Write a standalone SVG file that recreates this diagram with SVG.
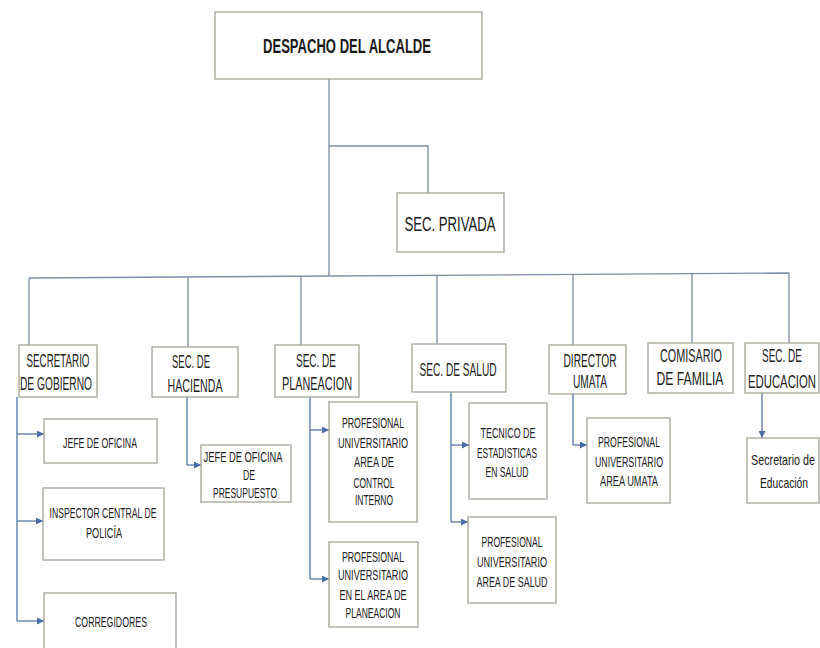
<svg xmlns="http://www.w3.org/2000/svg" width="820" height="648" viewBox="0 0 820 648">
<style>
.box{fill:#ffffff;stroke:#a3a594;stroke-width:1.3}
.t1{font-family:"Liberation Sans Narrow","Liberation Sans",Arial,sans-serif;font-size:21px;font-weight:bold;fill:#1a1a1a;text-anchor:middle}
.t1b{font-family:"Liberation Sans Narrow","Liberation Sans",Arial,sans-serif;font-size:20px;fill:#1a1a1a;text-anchor:middle}
.t2{font-family:"Liberation Sans Narrow","Liberation Sans",Arial,sans-serif;font-size:18.5px;fill:#222;text-anchor:middle}
.t3{font-family:"Liberation Sans Narrow","Liberation Sans",Arial,sans-serif;font-size:14px;fill:#222;text-anchor:middle}
.bus{fill:none;stroke:#7d8ea5;stroke-width:1.3}
.arr{fill:none;stroke:#5576a8;stroke-width:1.3}
</style>
<defs>
<marker id="ah" viewBox="0 0 8 8" refX="8" refY="4" markerWidth="7" markerHeight="7" markerUnits="userSpaceOnUse" orient="auto">
<path d="M0,0 L8,4 L0,8 z" fill="#4a6fa8"/>
</marker>
</defs>
<g id="connectors">
<path class="bus" d="M329,79 V276 M329,146 H428 V193"/>
<path class="bus" d="M29,278 L789,273"/>
<path class="bus" d="M29,278 V345 M188,277 V347 M301,276.2 V345 M437,275.3 V344 M573,274.4 V345 M692,273.6 V343 M789,273 V343"/>
<path class="arr" d="M17,397 V621 M187,397 V465 M310,397 V579 M451,392 V522 M573,394 V445"/>
<path class="arr" marker-end="url(#ah)" d="M17,434 H44"/>
<path class="arr" marker-end="url(#ah)" d="M17,521 H43"/>
<path class="arr" marker-end="url(#ah)" d="M17,621 H44"/>
<path class="arr" marker-end="url(#ah)" d="M187,465 H201"/>
<path class="arr" marker-end="url(#ah)" d="M310,430 H329"/>
<path class="arr" marker-end="url(#ah)" d="M310,579 H329"/>
<path class="arr" marker-end="url(#ah)" d="M451,445 H469"/>
<path class="arr" marker-end="url(#ah)" d="M451,522 H468"/>
<path class="arr" marker-end="url(#ah)" d="M573,445 H587"/>
<path class="arr" marker-end="url(#ah)" d="M762,393 V438"/>
</g>
<g id="despacho"><rect class="box" x="215" y="12" width="267" height="67"/><text class="t1" x="347" y="53" textLength="168" lengthAdjust="spacingAndGlyphs">DESPACHO DEL ALCALDE</text></g>
<g id="privada"><rect class="box" x="397" y="193" width="107" height="59"/><text class="t1b" x="450" y="231" textLength="91" lengthAdjust="spacingAndGlyphs">SEC. PRIVADA</text></g>
<g id="gobierno"><rect class="box" x="19" y="345" width="78" height="52"/><text class="t2" x="58" y="367" textLength="63" lengthAdjust="spacingAndGlyphs">SECRETARIO</text><text class="t2" x="56" y="390" textLength="72" lengthAdjust="spacingAndGlyphs">DE GOBIERNO</text></g>
<g id="hacienda"><rect class="box" x="152" y="347" width="86" height="50"/><text class="t2" x="191" y="368" textLength="38" lengthAdjust="spacingAndGlyphs">SEC. DE</text><text class="t2" x="195" y="392" textLength="55" lengthAdjust="spacingAndGlyphs">HACIENDA</text></g>
<g id="planeacion"><rect class="box" x="275" y="345" width="84" height="52"/><text class="t2" x="316" y="367" textLength="40" lengthAdjust="spacingAndGlyphs">SEC. DE</text><text class="t2" x="317" y="390" textLength="70" lengthAdjust="spacingAndGlyphs">PLANEACION</text></g>
<g id="salud"><rect class="box" x="412" y="344" width="94" height="48"/><text class="t2" x="458" y="376" textLength="77" lengthAdjust="spacingAndGlyphs">SEC. DE SALUD</text></g>
<g id="umata"><rect class="box" x="549" y="345" width="77" height="49"/><text class="t2" x="590" y="367" textLength="53" lengthAdjust="spacingAndGlyphs">DIRECTOR</text><text class="t2" x="590" y="388" textLength="34" lengthAdjust="spacingAndGlyphs">UMATA</text></g>
<g id="comisario"><rect class="box" x="648" y="343" width="85" height="50"/><text class="t2" x="691" y="362" textLength="62" lengthAdjust="spacingAndGlyphs">COMISARIO</text><text class="t2" x="690" y="385" textLength="67" lengthAdjust="spacingAndGlyphs">DE FAMILIA</text></g>
<g id="educacion"><rect class="box" x="745" y="343" width="74" height="50"/><text class="t2" transform="translate(782,362) scale(0.55,1)" x="0" y="0" textLength="72.7" lengthAdjust="spacingAndGlyphs">SEC. DE</text><text class="t2" transform="translate(782,388) scale(0.55,1)" x="0" y="0" textLength="123.6" lengthAdjust="spacingAndGlyphs">EDUCACION</text></g>
<g id="jefe-oficina"><rect class="box" x="44" y="419" width="113" height="44"/><text class="t3" x="100" y="448" textLength="74" lengthAdjust="spacingAndGlyphs">JEFE DE OFICINA</text></g>
<g id="inspector"><rect class="box" x="43" y="488" width="121" height="72"/><text class="t3" x="103" y="518" textLength="107" lengthAdjust="spacingAndGlyphs">INSPECTOR CENTRAL DE</text><text class="t3" x="104" y="538" textLength="36" lengthAdjust="spacingAndGlyphs">POLICÍA</text></g>
<g id="corregidores"><rect class="box" x="44" y="593" width="132" height="62"/><text class="t3" x="111" y="627" textLength="72" lengthAdjust="spacingAndGlyphs">CORREGIDORES</text></g>
<g id="presupuesto"><rect class="box" x="201" y="445" width="90" height="57"/><text class="t3" x="243" y="462" textLength="79" lengthAdjust="spacingAndGlyphs">JEFE DE OFICINA</text><text class="t3" x="249" y="480" textLength="12" lengthAdjust="spacingAndGlyphs">DE</text><text class="t3" x="245" y="498" textLength="64" lengthAdjust="spacingAndGlyphs">PRESUPUESTO</text></g>
<g id="control-interno"><rect class="box" x="329" y="402" width="88" height="120"/><text class="t3" x="373" y="428" textLength="62" lengthAdjust="spacingAndGlyphs">PROFESIONAL</text><text class="t3" x="373" y="448" textLength="70" lengthAdjust="spacingAndGlyphs">UNIVERSITARIO</text><text class="t3" x="374" y="467" textLength="40" lengthAdjust="spacingAndGlyphs">AREA DE</text><text class="t3" x="374" y="488" textLength="41" lengthAdjust="spacingAndGlyphs">CONTROL</text><text class="t3" x="374" y="505" textLength="38" lengthAdjust="spacingAndGlyphs">INTERNO</text></g>
<g id="prof-planeacion"><rect class="box" x="329" y="542" width="89" height="85"/><text class="t3" x="373" y="562" textLength="62" lengthAdjust="spacingAndGlyphs">PROFESIONAL</text><text class="t3" x="373" y="580" textLength="70" lengthAdjust="spacingAndGlyphs">UNIVERSITARIO</text><text class="t3" x="373" y="600" textLength="67" lengthAdjust="spacingAndGlyphs">EN EL AREA DE</text><text class="t3" x="373" y="618" textLength="55" lengthAdjust="spacingAndGlyphs">PLANEACION</text></g>
<g id="tecnico"><rect class="box" x="469" y="403" width="78" height="96"/><text class="t3" x="508" y="438" textLength="55" lengthAdjust="spacingAndGlyphs">TECNICO DE</text><text class="t3" x="507" y="458" textLength="60" lengthAdjust="spacingAndGlyphs">ESTADISTICAS</text><text class="t3" x="507" y="477" textLength="43" lengthAdjust="spacingAndGlyphs">EN SALUD</text></g>
<g id="prof-salud"><rect class="box" x="468" y="517" width="88" height="86"/><text class="t3" x="512" y="547" textLength="61" lengthAdjust="spacingAndGlyphs">PROFESIONAL</text><text class="t3" x="512" y="567" textLength="70" lengthAdjust="spacingAndGlyphs">UNIVERSITARIO</text><text class="t3" x="512" y="587" textLength="71" lengthAdjust="spacingAndGlyphs">AREA DE SALUD</text></g>
<g id="prof-umata"><rect class="box" x="587" y="418" width="83" height="85"/><text class="t3" x="629" y="447" textLength="62" lengthAdjust="spacingAndGlyphs">PROFESIONAL</text><text class="t3" x="629" y="467" textLength="68" lengthAdjust="spacingAndGlyphs">UNIVERSITARIO</text><text class="t3" x="629" y="486" textLength="58" lengthAdjust="spacingAndGlyphs">AREA UMATA</text></g>
<g id="secretario-educacion"><rect class="box" x="747" y="438" width="72" height="65"/><text class="t3" transform="translate(783,465) scale(0.6,1)" x="0" y="0" textLength="106.7" lengthAdjust="spacingAndGlyphs">Secretario de</text><text class="t3" transform="translate(784,488) scale(0.6,1)" x="0" y="0" textLength="80" lengthAdjust="spacingAndGlyphs">Educación</text></g>
</svg>
